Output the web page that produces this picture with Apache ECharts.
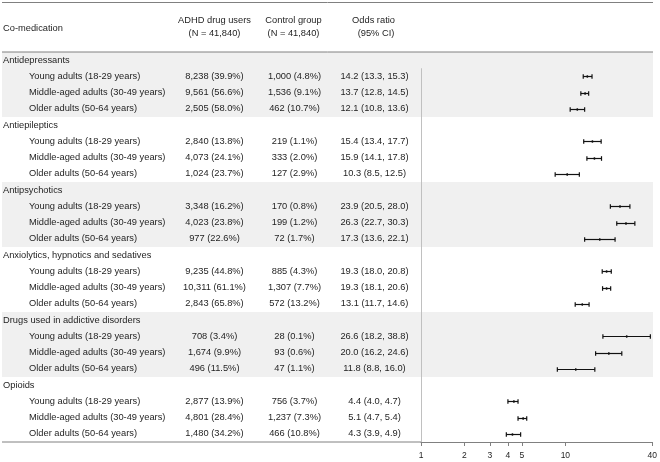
<!DOCTYPE html>
<html>
<head>
<meta charset="utf-8">
<script src="https://cdn.jsdelivr.net/npm/echarts@6/dist/echarts.min.js"></script>
<style>html,body{margin:0;padding:0;background:#fff}#chart{width:660px;height:462px}</style>
</head>
<body>
<div id="chart"></div>
<script>
const groups = ["Antidepressants","Antiepileptics","Antipsychotics","Anxiolytics, hypnotics and sedatives","Drugs used in addictive disorders","Opioids"];
const ageGroups = ["Young adults (18-29 years)","Middle-aged adults (30-49 years)","Older adults (50-64 years)"];
const adhdUsers = ["8,238 (39.9%)","9,561 (56.6%)","2,505 (58.0%)","2,840 (13.8%)","4,073 (24.1%)","1,024 (23.7%)","3,348 (16.2%)","4,023 (23.8%)","977 (22.6%)","9,235 (44.8%)","10,311 (61.1%)","2,843 (65.8%)","708 (3.4%)","1,674 (9.9%)","496 (11.5%)","2,877 (13.9%)","4,801 (28.4%)","1,480 (34.2%)"];
const controls = ["1,000 (4.8%)","1,536 (9.1%)","462 (10.7%)","219 (1.1%)","333 (2.0%)","127 (2.9%)","170 (0.8%)","199 (1.2%)","72 (1.7%)","885 (4.3%)","1,307 (7.7%)","572 (13.2%)","28 (0.1%)","93 (0.6%)","47 (1.1%)","756 (3.7%)","1,237 (7.3%)","466 (10.8%)"];
const oddsRatio = [14.2,13.7,12.1,15.4,15.9,10.3,23.9,26.3,17.3,19.3,19.3,13.1,26.6,20.0,11.8,4.4,5.1,4.3];
const ciLow = [13.3,12.8,10.8,13.4,14.1,8.5,20.5,22.7,13.6,18.0,18.1,11.7,18.2,16.2,8.8,4.0,4.7,3.9];
const ciHigh = [15.3,14.5,13.6,17.7,17.8,12.5,28.0,30.3,22.1,20.8,20.6,14.6,38.8,24.6,16.0,4.7,5.4,4.9];
const xTicks = [1,2,3,4,5,10,40];
const headers = {label:"Co-medication", adhd:["ADHD drug users","(N = 41,840)"], control:["Control group","(N = 41,840)"], or:["Odds ratio","(95% CI)"]};

const FONT = '"Liberation Sans", Arial, sans-serif';
const TXT = '#1e1e1e';
const LINE = '#808080';
const COL = {group:3, sub:29, adhd:214.5, control:294.5, or:374.5};
const RIGHT_EDGE = 653;

const rows = [];
groups.forEach((g, gi) => {
  rows.push({type:'group', text:g});
  ageGroups.forEach((a, ai) => {
    rows.push({type:'sub', text:a, k:gi*3 + ai});
  });
});
const rowIds = rows.map((r, i) => 'r' + i);

const forestData = [];
rows.forEach((r, i) => { if (r.type === 'sub') forestData.push([i, oddsRatio[r.k], ciLow[r.k], ciHigh[r.k]]); });
const tableData = rows.map((r, i) => [1, i]);
const shadeData = [];
groups.forEach((g, gi) => { if (gi % 2 === 0) shadeData.push([1, gi*4, gi*4+3]); });

const fmt = v => v.toFixed(1);

const chart = echarts.init(document.getElementById('chart'), null, {renderer:'canvas'});
chart.setOption({
  animation:false,
  backgroundColor:'#fff',
  grid:{left:421, top:52, width:232, height:390, containLabel:false},
  xAxis:{
    type:'log', logBase:10, min:1, max:40,
    axisLine:{show:true, lineStyle:{color:LINE, width:1}},
    axisTick:{show:true, length:4, inside:false, customValues:xTicks, lineStyle:{color:LINE}},
    axisLabel:{show:true, customValues:xTicks, margin:9, fontSize:8.5, color:TXT, fontFamily:FONT, formatter:v=>String(Math.round(v))},
    splitLine:{show:false}, minorTick:{show:false}
  },
  yAxis:{type:'category', data:rowIds, inverse:true, show:false, boundaryGap:true},
  graphic:[
    {type:'line', shape:{x1:2, y1:2.5, x2:RIGHT_EDGE, y2:2.5}, style:{stroke:LINE, lineWidth:1}, z:10},
    {type:'line', shape:{x1:2, y1:52, x2:RIGHT_EDGE, y2:52}, style:{stroke:LINE, lineWidth:1}, z:10},
    {type:'line', shape:{x1:2, y1:442, x2:421, y2:442}, style:{stroke:LINE, lineWidth:1}, z:10},
    {type:'text', style:{x:COL.group, y:28.3, text:headers.label, align:'left', verticalAlign:'middle', font:'9.3px '+FONT, fill:TXT}},
    {type:'text', style:{x:COL.adhd, y:20.7, text:headers.adhd[0], align:'center', verticalAlign:'middle', font:'9.3px '+FONT, fill:TXT}},
    {type:'text', style:{x:COL.adhd, y:33.3, text:headers.adhd[1], align:'center', verticalAlign:'middle', font:'9.3px '+FONT, fill:TXT}},
    {type:'text', style:{x:293.5, y:20.7, text:headers.control[0], align:'center', verticalAlign:'middle', font:'9.3px '+FONT, fill:TXT}},
    {type:'text', style:{x:293.5, y:33.3, text:headers.control[1], align:'center', verticalAlign:'middle', font:'9.3px '+FONT, fill:TXT}},
    {type:'text', style:{x:373.5, y:20.7, text:headers.or[0], align:'center', verticalAlign:'middle', font:'9.3px '+FONT, fill:TXT}},
    {type:'text', style:{x:376, y:33.3, text:headers.or[1], align:'center', verticalAlign:'middle', font:'9.3px '+FONT, fill:TXT}}
  ],
  series:[
    {
      type:'custom', z:1, silent:true, clip:false,
      data:shadeData, encode:{x:0, y:[1,2]},
      renderItem:(params, api) => {
        const h = api.size([0,1])[1];
        const y0 = api.coord([1, api.value(1)])[1] - h/2;
        const y1 = api.coord([1, api.value(2)])[1] + h/2;
        return {type:'rect', shape:{x:2, y:y0, width:RIGHT_EDGE-2, height:y1-y0}, style:{fill:'#f0f0f0'}};
      }
    },
    {
      type:'custom', z:2, silent:true, clip:false,
      data:[[1]], encode:{x:0},
      renderItem:(params, api) => {
        const h = api.size([0,1])[1];
        const x = Math.round(api.coord([api.value(0), 0])[0]) + 0.5;
        const yTop = api.coord([1, 0])[1] + h/2;
        const yBot = api.coord([1, rows.length-1])[1] + h/2;
        return {type:'line', shape:{x1:x, y1:yTop, x2:x, y2:yBot}, style:{stroke:'#c0c0c0', lineWidth:1}};
      }
    },
    {
      type:'custom', z:3, silent:true, clip:false,
      data:forestData, encode:{x:[1,2,3], y:0},
      renderItem:(params, api) => {
        const row = api.value(0);
        const pm = api.coord([api.value(1), row]);
        const pl = api.coord([api.value(2), row]);
        const ph = api.coord([api.value(3), row]);
        const y = Math.round(pm[1]) + 0.5;
        const st = {stroke:'#111', lineWidth:1.2};
        return {type:'group', children:[
          {type:'line', shape:{x1:pl[0], y1:y, x2:ph[0], y2:y}, style:st},
          {type:'line', shape:{x1:pl[0], y1:y-2.3, x2:pl[0], y2:y+2.3}, style:st},
          {type:'line', shape:{x1:ph[0], y1:y-2.3, x2:ph[0], y2:y+2.3}, style:st},
          {type:'rect', shape:{x:pm[0]-0.75, y:y-1.2, width:1.5, height:2.4}, style:{fill:'#111'}}
        ]};
      }
    },
    {
      type:'custom', z:4, silent:true, clip:false,
      data:tableData, encode:{x:0, y:1},
      renderItem:(params, api) => {
        const i = api.value(1);
        const r = rows[i];
        const y = api.coord([1, i])[1];
        const font = '9.3px ' + FONT;
        const t = (x, text, align) => ({type:'text', style:{x, y, text, align, verticalAlign:'middle', font, fill:TXT}});
        if (r.type === 'group') return {type:'group', children:[t(COL.group, r.text, 'left')]};
        const k = r.k;
        return {type:'group', children:[
          t(COL.sub, r.text, 'left'),
          t(COL.adhd, adhdUsers[k], 'center'),
          t(COL.control, controls[k], 'center'),
          t(COL.or, fmt(oddsRatio[k]) + ' (' + fmt(ciLow[k]) + ', ' + fmt(ciHigh[k]) + ')', 'center')
        ]};
      }
    }
  ]
});
</script>
</body>
</html>
